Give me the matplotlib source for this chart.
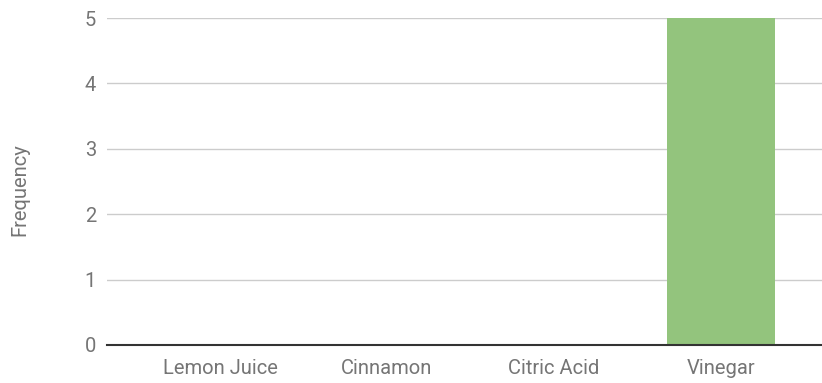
import matplotlib
matplotlib.use("Agg")
import matplotlib.pyplot as plt

categories = ["Lemon Juice", "Cinnamon", "Citric Acid", "Vinegar"]
values = [0, 0, 0, 5]
yticks = [0, 1, 2, 3, 4, 5]

plt.rcParams['font.family'] = ['Roboto', 'DejaVu Sans']

fig = plt.figure(figsize=(8.22, 3.83), dpi=100)
ax = fig.add_axes([107/822, 38/383, 1 - 107/822, (345-18)/383])

x = list(range(len(categories)))
ax.bar(x, values, width=0.65, color="#93c47d", zorder=3)

ax.set_xlim(-0.677, 3.605)
ax.set_ylim(0, 5)
ax.set_yticks(yticks)
ax.set_xticks(x)
ax.set_xticklabels(categories)

for s in ["top", "right", "left"]:
    ax.spines[s].set_visible(False)
ax.spines["bottom"].set_color("#333333")
ax.spines["bottom"].set_linewidth(1.5)
ax.spines["bottom"].set_zorder(4)

ax.grid(axis="y", color="#cccccc", linewidth=1, zorder=0)
ax.tick_params(axis="both", length=0, labelsize=14.5, labelcolor="#757575")
ax.tick_params(axis="y", pad=8)
ax.tick_params(axis="x", pad=10)

fig.text(20/822, 1 - 190/383, "Frequency", rotation=90, ha="center", va="center",
         fontsize=14.5, color="#757575")

fig.savefig("out.png", dpi=100)
